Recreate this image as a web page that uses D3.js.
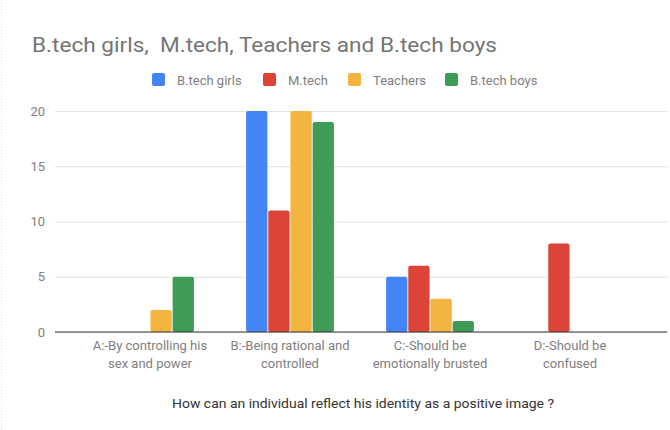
<!DOCTYPE html>
<html>
<head>
<meta charset="utf-8">
<script src="https://cdn.jsdelivr.net/npm/d3@7"></script>
<style>
  body { margin: 0; background: #fff; }
  text { font-family: Roboto, "Noto Sans", sans-serif; white-space: pre; }
</style>
</head>
<body>
<div id="chart"></div>
<script>
// data
var categories = [
  ["A:-By controlling his", "sex and power"],
  ["B:-Being rational and", "controlled"],
  ["C:-Should be", "emotionally brusted"],
  ["D:-Should be", "confused"]
];
var seriesNames = ["B.tech girls", "M.tech", "Teachers", "B.tech boys"];
var btechGirls = [0, 20, 5, 0];
var mtech = [0, 11, 6, 8];
var teachers = [2, 20, 3, 0];
var btechBoys = [5, 19, 1, 0];
var yTicks = [0, 5, 10, 15, 20];
var colors = ["#4285f4", "#db4437", "#f4b440", "#3f9c57"];

var title = "B.tech girls,  M.tech, Teachers and B.tech boys";
var xTitle = "How can an individual reflect his identity as a positive image ?";

var series = [btechGirls, mtech, teachers, btechBoys];

var W = 670, H = 430;
var svg = d3.select("#chart").append("svg")
    .attr("width", W)
    .attr("height", H);

// faint dotted border on the left
svg.append("line")
    .attr("x1", 1.5).attr("x2", 1.5).attr("y1", 0).attr("y2", H)
    .attr("stroke", "#ddd").attr("stroke-dasharray", "1,2");

// scales
var x0 = d3.scaleBand()
    .domain(d3.range(categories.length))
    .range([80, 640])
    .paddingInner(0.36)
    .paddingOuter(0.18);
var x1 = d3.scaleBand()
    .domain(d3.range(series.length))
    .range([0, x0.bandwidth()])
    .padding(0.04);
var y = d3.scaleLinear().domain([0, 20]).range([332, 111]);

var gridLeft = 55, gridRight = 667;

// gridlines + y labels
var yAxis = d3.axisLeft(y)
    .tickValues(yTicks)
    .tickSize(-(gridRight - gridLeft))
    .tickPadding(10);
var ga = svg.append("g")
    .attr("transform", "translate(" + gridLeft + ",0)")
    .call(yAxis);
ga.select(".domain").remove();
ga.selectAll(".tick line").attr("stroke", "#e2e2e2");
ga.selectAll(".tick text")
    .attr("fill", "#808080")
    .style("font-size", "13px");

// bars
var groups = svg.append("g").selectAll("g")
    .data(categories)
    .enter().append("g")
    .attr("transform", function(d, i) { return "translate(" + x0(i) + ",0)"; });

groups.selectAll("rect")
    .data(function(d, i) {
      return series.map(function(s, j) { return {s: j, v: s[i]}; })
        .filter(function(e) { return e.v > 0; });
    })
    .enter().append("rect")
    .attr("x", function(d) { return x1(d.s); })
    .attr("width", x1.bandwidth())
    .attr("y", function(d) { return y(d.v); })
    .attr("height", function(d) { return y(0) - y(d.v); })
    .attr("rx", 2)
    .attr("fill", function(d) { return colors[d.s]; });

// baseline
svg.append("line")
    .attr("x1", gridLeft).attr("x2", gridRight)
    .attr("y1", y(0)).attr("y2", y(0))
    .attr("stroke", "#333").attr("stroke-width", 1);

// x labels
var xl = svg.append("g").selectAll("text")
    .data(categories)
    .enter().append("text")
    .attr("x", function(d, i) { return x0(i) + x0.bandwidth() / 2; })
    .attr("y", 350)
    .attr("text-anchor", "middle")
    .attr("fill", "#808080")
    .style("font-size", "13px");
xl.selectAll("tspan")
    .data(function(d) { return d; })
    .enter().append("tspan")
    .attr("x", function() { return this.parentNode.getAttribute("x"); })
    .attr("dy", function(d, i) { return i === 0 ? 0 : 18; })
    .text(function(d) { return d; });

// x axis title
svg.append("text")
    .attr("x", 172)
    .attr("y", 408)
    .attr("fill", "#333")
    .attr("textLength", 382)
    .attr("lengthAdjust", "spacingAndGlyphs")
    .style("font-size", "13.5px")
    .text(xTitle);

// chart title
svg.append("text")
    .attr("x", 32)
    .attr("y", 52)
    .attr("fill", "#757575")
    .attr("textLength", 465)
    .attr("lengthAdjust", "spacingAndGlyphs")
    .style("font-size", "21px")
    .text(title);

// legend
var legendX = [152, 263, 348, 445];
var lg = svg.append("g").selectAll("g")
    .data(seriesNames)
    .enter().append("g")
    .attr("transform", function(d, i) { return "translate(" + legendX[i] + ",73)"; });
lg.append("rect")
    .attr("width", 13).attr("height", 13).attr("rx", 2)
    .attr("fill", function(d, i) { return colors[i]; });
lg.append("text")
    .attr("x", 25)
    .attr("y", 12)
    .attr("fill", "#808080")
    .style("font-size", "13px")
    .text(function(d) { return d; });
</script>
</body>
</html>
